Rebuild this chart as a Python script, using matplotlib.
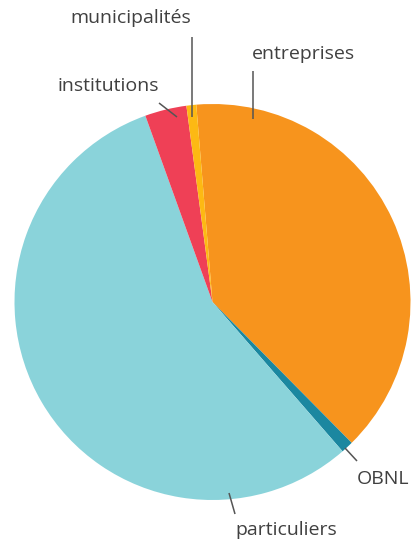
import matplotlib
matplotlib.use("Agg")
import matplotlib.pyplot as plt

# slice shares (percent), clockwise from the top
labels = ["entreprises", "OBNL", "particuliers", "institutions", "municipalités"]
shares = [38.9, 1.0, 55.9, 3.4, 0.8]
colors = ["#F7941D", "#1B87A0", "#8AD3DA", "#EF4056", "#FDB913"]

W, H = 411, 542
cx, cy, R = 212.5, 302, 198  # pie centre and radius in pixels


def px(x, y):  # pixel -> data coords (pie radius = 1)
    return (x - cx) / R, (cy - y) / R


fig = plt.figure(figsize=(W / 100, H / 100), dpi=100)
ax = fig.add_axes([0, 0, 1, 1])
ax.pie(shares, colors=colors, startangle=94.7, counterclock=False,
       radius=1, center=(0, 0), wedgeprops=dict(linewidth=0))
ax.set_xlim(-cx / R, (W - cx) / R)
ax.set_ylim((cy - H) / R, cy / R)
ax.set_aspect("auto")
ax.axis("off")

# leader lines (pixel endpoints) and label anchors
leaders = {
    "entreprises": ((253, 71), (253, 119)),
    "OBNL": ((345, 448), (357, 461)),
    "particuliers": ((229, 493), (235, 514)),
    "institutions": ((159, 103), (177, 117)),
    "municipalités": ((191.7, 37), (191.7, 117)),
}
text_pos = {
    "entreprises": (252, 54, "left"),
    "OBNL": (357, 479, "left"),
    "particuliers": (235, 530, "left"),
    "institutions": (159, 86, "right"),
    "municipalités": (191, 18, "right"),
}
for lab in labels:
    (x0, y0), (x1, y1) = leaders[lab]
    a, b = px(x0, y0)
    c, d = px(x1, y1)
    ax.plot([a, c], [b, d], color="#555555", lw=1.1, solid_capstyle="butt")
    tx, ty, ha = text_pos[lab]
    tx, ty = px(tx, ty)
    ax.text(tx, ty, lab, ha=ha, va="center", fontsize=14,
            family="Open Sans", color="#404040")

fig.savefig("out.png", dpi=100)
